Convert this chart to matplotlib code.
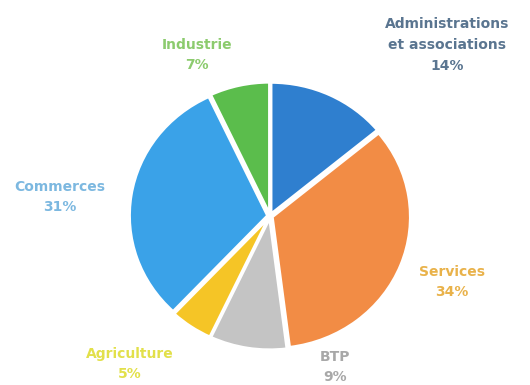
import matplotlib
matplotlib.use("Agg")
import matplotlib.pyplot as plt

# Répartition par secteur
secteurs = ["Administrations\net associations", "Services", "BTP", "Agriculture", "Commerces", "Industrie"]
parts = [14, 34, 9, 5, 31, 7]
couleurs = ["#2f7fcf", "#f28c45", "#c4c4c4", "#f5c526", "#3aa2e8", "#5bbd4c"]
couleurs_texte = ["#5a7590", "#e9b24a", "#a8a8a8", "#e2e04a", "#7cb8e0", "#8ccb6e"]

W, H = 530, 385
SY = 1.05  # léger aplatissement vertical du camembert
fig = plt.figure(figsize=(W / 100, H / 100), dpi=100)
ax = fig.add_axes([0, 0, 1, 1])


def py(y_px):
    return (H - y_px) * SY


ax.pie(parts, colors=couleurs, startangle=90, counterclock=False,
       radius=138, center=(270, py(216)), frame=True,
       explode=[2.5] * len(parts),
       wedgeprops=dict(edgecolor="white", linewidth=2))
ax.set_aspect("auto")
ax.set_xlim(0, W)
ax.set_ylim(0, H * SY)
ax.axis("off")

# Positions des étiquettes (pixels depuis le haut)
positions = [(447, 45), (452, 282), (335, 367), (130, 364), (60, 197), (197, 55)]
for nom, p, (x, y), c in zip(secteurs, parts, positions, couleurs_texte):
    ax.text(x, py(y), f"{nom}\n{p}%", ha="center", va="center",
            fontsize=10, color=c, fontweight="bold", linespacing=1.6)

fig.savefig("out.png", dpi=100, facecolor="white")
